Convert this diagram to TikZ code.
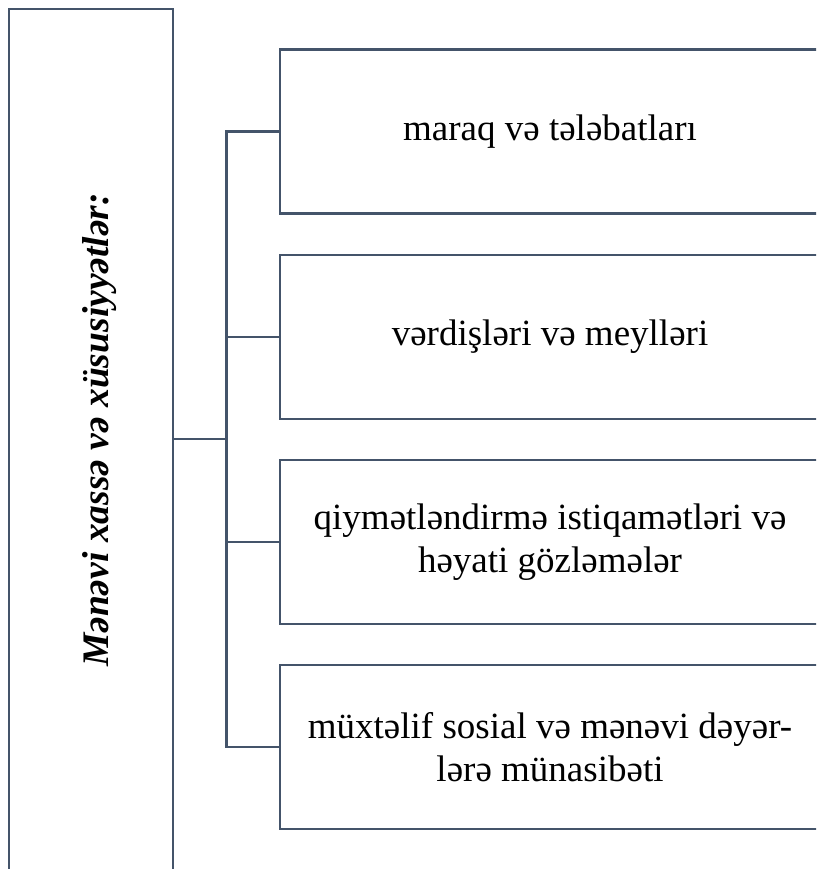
\documentclass[tikz,border=0pt]{standalone}
\usepackage{fontspec}
\setmainfont{Liberation Serif}
\definecolor{slate}{HTML}{44546A}

\begin{document}
\begin{tikzpicture}[x=1pt, y=-1pt,
    frame/.style={draw=slate, line width=2.5pt, inner sep=0pt, outer sep=0pt},
    itembox/.style={frame, minimum width=540pt, minimum height=164pt, align=center,
      font={\fontsize{37}{43}\selectfont}}]
  \useasboundingbox (0,0) rectangle (816,869);
  \clip (0,0) rectangle (816,869);
  \draw
    (91,454.5) node[frame, minimum width=164pt, minimum height=891pt] (side){}
    (100,430) node[rotate=90, inner sep=0pt,
      font={\bfseries\itshape\fontsize{37.5}{43}\selectfont}] (title){Mənəvi xassə və xüsusiyyətlər:}
    (550,131.5) node[itembox] (item1){maraq və tələbatları}
    (550,337) node[itembox] (item2){vərdişləri və meylləri}
    (550,542) node[itembox] (item3){qiymətləndirmə istiqamətləri və\\həyati gözləmələr}
    (550,747) node[itembox] (item4){müxtəlif sosial və mənəvi dəyər-\\lərə münasibəti};
  \coordinate (fork) at (226.5,439);
  \begin{scope}[draw=slate, line width=2.5pt]
    \draw (side.east |- fork) to (fork);
    \draw (item1.west) -| (fork) |- (item4.west);
    \draw (fork |- item2.west) to (item2.west);
    \draw (fork |- item3.west) to (item3.west);
  \end{scope}
\end{tikzpicture}
\end{document}
